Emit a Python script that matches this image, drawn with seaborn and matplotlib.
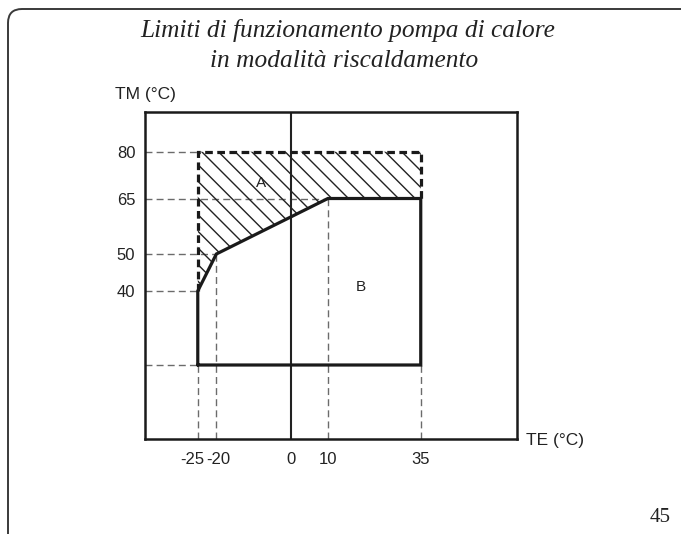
import numpy as np
import matplotlib
matplotlib.use("Agg")
import matplotlib.pyplot as plt
import matplotlib.transforms as mtransforms
from matplotlib.path import Path
from matplotlib.patches import PathPatch
import seaborn as sns

# dati del diagramma (TE = temperatura esterna, TM = temperatura mandata)
TE_TICKS = [-25, -20, 0, 10, 35]
TM_TICKS = [40, 50, 65, 80]
TM_FLOOR = 20
TE_LIM = (-39.2, 60.9)
TM_LIM = (0, 90)

# zona B: limiti di funzionamento pompa di calore
B_TE = [-25, -25, -20, 10, 35, 35, -25]
B_TM = [20, 40, 50, 65, 65, 20, 20]
# zona A: estensione (tratteggiata)
A_TE = [-25, -25, 35, 35]
A_TM = [40, 80, 80, 65]

LABEL_A = (-8, 70)
LABEL_B = (19, 41)

TITLE_1 = "Limiti di funzionamento pompa di calore"
TITLE_2 = "in modalità riscaldamento"
PAGE = "45"

W, H = 681, 534
GREY = "#6b6b6b"

sns.set_theme(style="white")
plt.rcParams["font.family"] = ["Liberation Sans", "DejaVu Sans"]
plt.rcParams["hatch.linewidth"] = 1.0

# asse TM non in scala sopra i 65 °C (come nel disegno originale)
_yk = [-1000, 0, 65, 80, 90, 1000]
_yv = [-1000, 0, 65, 77.65, 88.46, 88.46 + 910]
def fwd(y): return np.interp(y, _yk, _yv)
def inv(y): return np.interp(y, _yv, _yk)

fig = plt.figure(figsize=(W / 100, H / 100), dpi=100)
ax = fig.add_axes([145 / W, (H - 439) / H, (517 - 145) / W, (439 - 111.7) / H])
ax.set_yscale("function", functions=(fwd, inv))
ax.set_xlim(*TE_LIM)
ax.set_ylim(*TM_LIM)

# linee guida tratteggiate
verts = list(zip(B_TE, B_TM)) + list(zip(A_TE, A_TM))
for tm in TM_TICKS + [TM_FLOOR]:
    xe = min(x for x, y in verts if y == tm)
    ax.plot([TE_LIM[0], xe], [tm, tm], color=GREY, lw=1, dashes=(5, 3), zorder=1)
for te in TE_TICKS:
    if te == 0:
        continue
    ye = min(y for x, y in verts if x == te)
    ax.plot([te, te], [TM_LIM[0], ye], color=GREY, lw=1, dashes=(5, 3), zorder=1)
ax.axvline(0, color="#222222", lw=1.5, zorder=2)

# zona A tratteggiata (hatch)
hx = A_TE + B_TE[3:0:-1]
hy = A_TM + B_TM[3:0:-1]
ax.fill(hx, hy, facecolor="none", edgecolor="#222222", hatch="\\\\", lw=0, zorder=2)

sns.lineplot(x=A_TE, y=A_TM, sort=False, estimator=None, ax=ax, color="#1a1a1a",
             lw=2.3, dashes=False, zorder=3).lines[-1].set_dashes((2.4, 1.4))
sns.lineplot(x=B_TE, y=B_TM, sort=False, estimator=None, ax=ax, color="#1a1a1a",
             lw=2.3, zorder=4)
for ln in ax.lines[-2:]:
    ln.set_solid_joinstyle("miter")
    ln.set_dash_joinstyle("miter")

ax.text(*LABEL_A, "A", ha="center", va="center", fontsize=11, color="#222222")
ax.text(*LABEL_B, "B", ha="center", va="center", fontsize=11, color="#222222")

ax.set_xticks(TE_TICKS)
ax.set_xticklabels([str(v) for v in TE_TICKS])
ax.set_yticks(TM_TICKS)
ax.set_yticklabels([str(v) for v in TM_TICKS])
ax.minorticks_off()
ax.tick_params(length=0, labelsize=12, colors="#222222")
ax.tick_params(axis="x", pad=9)
ax.tick_params(axis="y", pad=7)
# -25 e -20 sono vicini: scosta leggermente le etichette
for lab, dx in zip(ax.get_xticklabels()[:2], [-5, 1.5]):
    lab.set_transform(lab.get_transform() + mtransforms.ScaledTranslation(dx / 100, 0, fig.dpi_scale_trans))
for sp in ax.spines.values():
    sp.set_visible(True)
    sp.set_color("#1a1a1a")
    sp.set_linewidth(1.8)
ax.set_xlabel("")
ax.set_ylabel("")
ax.grid(False)

fig.text(115 / W, 1 - 95 / H, "TM (°C)", ha="left", va="center", fontsize=12.5, color="#222222")
fig.text(526 / W, 1 - 440 / H, "TE (°C)", ha="left", va="center", fontsize=12.5, color="#222222")

fig.text(348 / W, 1 - 37 / H, TITLE_1, ha="center", va="baseline", fontsize=18.3,
         family="Liberation Serif", style="italic", color="#222222")
fig.text(344 / W, 1 - 67 / H, TITLE_2, ha="center", va="baseline", fontsize=18.3,
         family="Liberation Serif", style="italic", color="#222222")
fig.text(660 / W, 1 - 518 / H, PAGE, ha="center", va="center", fontsize=15,
         family="Liberation Serif", color="#222222")

# cornice della pagina con angolo arrotondato
r = 14
pts = [(W + 2, 9), (8 + r, 9), (8, 9), (8, 9 + r), (8, H + 2)]
codes = [Path.MOVETO, Path.LINETO, Path.CURVE3, Path.CURVE3, Path.LINETO]
frame = Path([(x / W, 1 - y / H) for x, y in pts], codes)
fig.add_artist(PathPatch(frame, transform=fig.transFigure, fill=False,
                         edgecolor="#3a3a3a", lw=1.4))

fig.savefig("out.png", dpi=100)
